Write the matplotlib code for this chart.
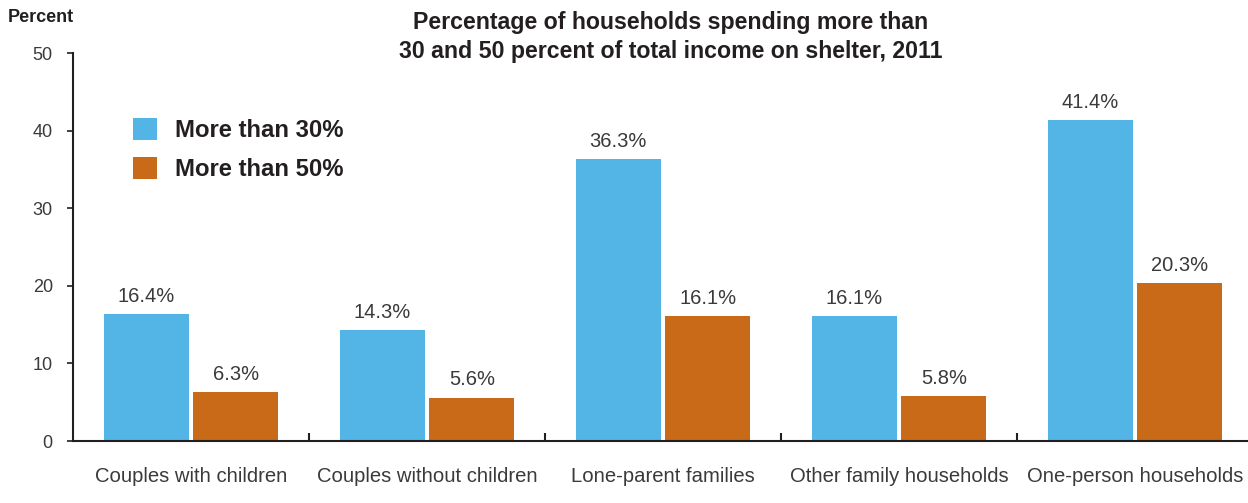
import matplotlib
matplotlib.use("Agg")
import matplotlib.pyplot as plt
from matplotlib.patches import Patch
import numpy as np

plt.rcParams['font.family'] = ['Liberation Sans', 'DejaVu Sans']

categories = ["Couples with children", "Couples without children", "Lone-parent families",
              "Other family households", "One-person households"]
over_30 = [16.4, 14.3, 36.3, 16.1, 41.4]
over_50 = [6.3, 5.6, 16.1, 5.8, 20.3]
series_names = ["More than 30%", "More than 50%"]
y_ticks = [0, 10, 20, 30, 40, 50]

blue = "#52B5E6"
orange = "#C96A19"
ink = "#231F20"
text_gray = "#3A3A3A"

fig = plt.figure(figsize=(12.48, 5.03), dpi=100)
ax = fig.add_axes([73 / 1248, 62 / 503, 1180 / 1248, 388 / 503])

x = np.arange(len(categories))
w = 0.36
off = 0.19
b1 = ax.bar(x - off, over_30, width=w, color=blue, label=series_names[0])
b2 = ax.bar(x + off, over_50, width=w, color=orange, label=series_names[1])

for bars, vals in ((b1, over_30), (b2, over_50)):
    for rect, v in zip(bars, vals):
        ax.annotate(f"{v:.1f}%", (rect.get_x() + rect.get_width() / 2, v),
                    xytext=(0, 5.8), textcoords="offset points",
                    ha="center", va="bottom", fontsize=14.5, color=text_gray)

ax.set_xlim(-0.5, 4.5)
ax.set_ylim(0, 50)
ax.set_yticks(y_ticks)
ax.set_xticks(x)
ax.set_xticklabels(categories)
ax.set_xticks(np.arange(0.5, 4.0, 1.0), minor=True)

for s in ("top", "right"):
    ax.spines[s].set_visible(False)
for s in ("left", "bottom"):
    ax.spines[s].set_linewidth(1.5)
    ax.spines[s].set_color(ink)

ax.tick_params(axis="y", direction="out", length=4.5, width=1.2, color=ink,
               labelsize=13, labelcolor=text_gray, pad=10)
ax.tick_params(axis="x", which="major", length=0, labelsize=14.6,
               labelcolor=text_gray, pad=18.5)
ax.tick_params(axis="x", which="minor", direction="in", length=6, width=1.5, color=ink)

fig.text(8 / 1248, 1 - 18 / 503, "Percent", fontsize=13, fontweight="bold",
         color=ink, ha="left", va="center")
fig.text(671 / 1248, 1 - 37 / 503,
         "Percentage of households spending more than\n30 and 50 percent of total income on shelter, 2011",
         fontsize=16.7, fontweight="bold", color=ink, ha="center", va="center",
         linespacing=1.35)

handles = [Patch(facecolor=blue), Patch(facecolor=orange)]
leg = ax.legend(handles, series_names, loc="upper left",
                bbox_to_anchor=((133 - 73) / 1180, (441 - 118) / 388),
                frameon=False, prop={"size": 17.2, "weight": "bold"},
                borderpad=0, borderaxespad=0,
                handlelength=1.0, handleheight=1.05, handletextpad=0.75,
                labelspacing=0.62, labelcolor=ink)

fig.savefig("out.png", dpi=100)
